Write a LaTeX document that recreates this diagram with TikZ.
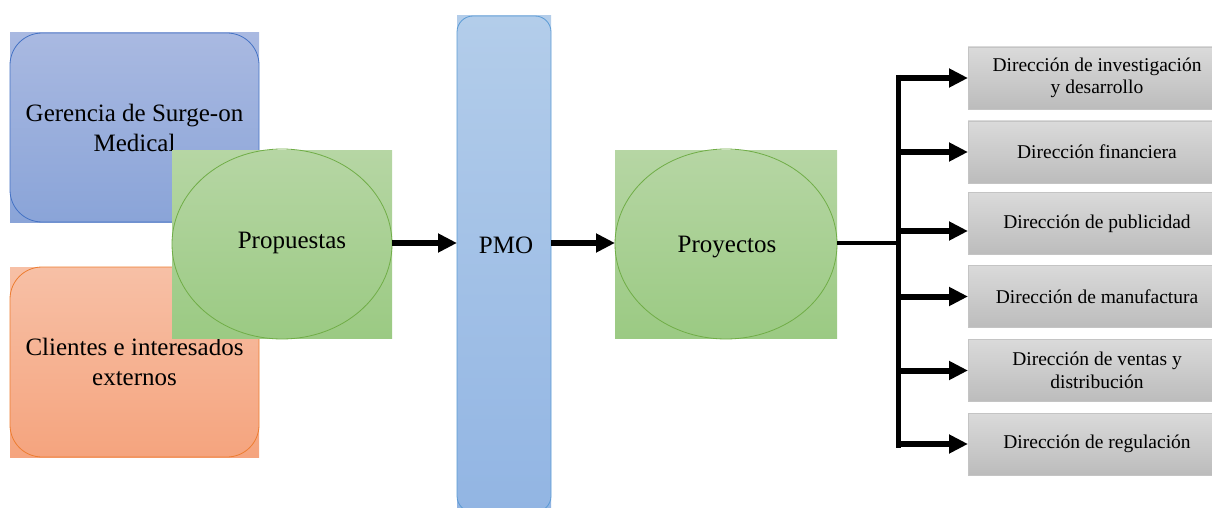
\documentclass[tikz,border=0pt]{standalone}
\usepackage{fontspec}
\setmainfont{Liberation Serif}
\usetikzlibrary{arrows.meta,calc}

\definecolor{blueTop}{HTML}{A9B9E1}
\definecolor{blueBot}{HTML}{8AA4D8}
\definecolor{blueLine}{HTML}{4472C4}
\definecolor{orangeTop}{HTML}{F7C0A6}
\definecolor{orangeBot}{HTML}{F5A47E}
\definecolor{orangeLine}{HTML}{ED7D31}
\definecolor{greenTop}{HTML}{B6D6A4}
\definecolor{greenBot}{HTML}{9BCA83}
\definecolor{greenLine}{HTML}{70AD47}
\definecolor{pmoTop}{HTML}{B3CDEA}
\definecolor{pmoBot}{HTML}{92B5E3}
\definecolor{pmoLine}{HTML}{5B9BD5}
\definecolor{grayTop}{HTML}{DADADA}
\definecolor{grayBot}{HTML}{BCBCBC}
\definecolor{grayLine}{HTML}{C4C4C4}

\tikzset{
  bigtext/.style={font=\fontsize{25}{30}\selectfont, align=center},
  smalltext/.style={font=\fontsize{19.5}{22.5}\selectfont, align=center},
  panel/.style={rectangle, inner sep=0pt, outer sep=0pt},
  dirbox/.style={panel, smalltext, minimum width=258pt, minimum height=62pt,
    top color=grayTop, bottom color=grayBot, draw=grayLine, line width=0.8pt},
  bigarrow/.style={line width=6pt, -{Triangle[length=19pt,width=18pt]}},
}

\begin{document}
\begin{tikzpicture}[x=1pt,y=-1pt]
\useasboundingbox (0,0) rectangle (1212,508);

% sources
\node[panel, bigtext, minimum width=249pt, minimum height=189pt,
  top color=blueTop, bottom color=blueBot] (ger) at (134.5,127.5)
  {Gerencia de Surge-on\\Medical};
\draw[blueLine, line width=0.8pt, rounded corners=32pt]
  (ger.north west) rectangle (ger.south east);

\node[panel, bigtext, minimum width=249pt, minimum height=190pt,
  top color=orangeTop, bottom color=orangeBot] (cli) at (134.5,362)
  {Clientes e interesados\\externos};
\draw[orangeLine, line width=0.8pt, rounded corners=32pt]
  (cli.north west) rectangle (cli.south east);

% proposals
\node[panel, bigtext, minimum width=220pt, minimum height=188pt,
  top color=greenTop, bottom color=greenBot] (prop) at (282,244) {};
\draw[greenLine, line width=0.8pt] (prop.center) ellipse [x radius=110, y radius=95];
\node[bigtext] (proptxt) at (292,243) {Propuestas};

% PMO bar
\node[panel, minimum width=94pt, minimum height=496pt,
  top color=pmoTop, bottom color=pmoBot] (pmo) at (504,264) {};
\draw[pmoLine, line width=0.8pt, rounded corners=16pt]
  (pmo.north west) rectangle (pmo.south east);
\node[bigtext] (pmotxt) at (506,245) {PMO};

% projects
\node[panel, minimum width=222pt, minimum height=188pt,
  top color=greenTop, bottom color=greenBot] (proy) at (726,244) {};
\draw[greenLine, line width=0.8pt] (proy.center) ellipse [x radius=111, y radius=95];
\node[bigtext] (proytxt) at (727,247) {Proyectos};

\draw[bigarrow] (prop.east |- 0,243) -- (pmo.west |- 0,243);
\draw[bigarrow] (pmo.east |- 0,243) -- (proy.west |- 0,243);

% departments
\node[dirbox] (d1) at (1097,78)    {Dirección de investigación\\y desarrollo};
\node[dirbox] (d2) at (1097,152)   {Dirección financiera};
\node[dirbox] (d3) at (1097,223.5) {Dirección de publicidad};
\node[dirbox] (d4) at (1097,296.5) {Dirección de manufactura};
\node[dirbox] (d5) at (1097,370.5) {Dirección de ventas y\\distribución};
\node[dirbox] (d6) at (1097,444)   {Dirección de regulación};

% distribution trunk
\coordinate (ttop) at (898.5,75);
\coordinate (tbot) at (898.5,448);
\draw[line width=4.5pt] (ttop) -- (tbot);
\draw[line width=3.5pt] (proy.east |- 0,243) -- (ttop |- 0,243);

\draw[bigarrow] (ttop |- d1.west) -- (d1.west);
\draw[bigarrow] (ttop |- d2.west) -- (d2.west);
\draw[bigarrow] ($(ttop |- d3.west)+(0,7.5)$) -- ($(d3.west)+(0,7.5)$);
\draw[bigarrow] (ttop |- d4.west) -- (d4.west);
\draw[bigarrow] (ttop |- d5.west) -- (d5.west);
\draw[bigarrow] (ttop |- d6.west) -- (d6.west);
\end{tikzpicture}
\end{document}
